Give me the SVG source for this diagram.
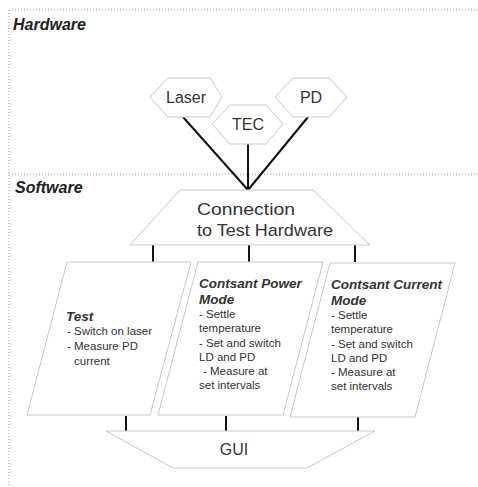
<svg xmlns="http://www.w3.org/2000/svg" width="478" height="487" viewBox="0 0 478 487">
<style>
.shape{fill:#fff;stroke:#c8c8c8;stroke-width:1}
.conn{stroke:#111;stroke-width:2;fill:none}
.zone{stroke:#999;stroke-width:1;stroke-dasharray:1,2;fill:none}
.t{font-family:"Liberation Sans",Arial,sans-serif;fill:#333}
.big{font-size:16px}
.body{font-size:11.5px}
.head{font-size:13.5px;font-weight:bold;font-style:italic}
.zt{font-family:"Liberation Sans",Arial,sans-serif;font-size:16px;font-weight:bold;font-style:italic;fill:#222}
</style>
<rect width="478" height="487" fill="#fff"/>
<g id="zones">
<line class="zone" x1="9" y1="10" x2="478" y2="10"/>
<line class="zone" x1="9" y1="10" x2="9" y2="487"/>
<line class="zone" x1="9" y1="174" x2="478" y2="174"/>
<text class="zt" x="13" y="30">Hardware</text>
<text class="zt" x="15" y="193">Software</text>
</g>
<g id="connectors">
<line class="conn" x1="183" y1="117" x2="248" y2="190"/>
<line class="conn" x1="248" y1="144" x2="248" y2="190"/>
<line class="conn" x1="308" y1="117" x2="248" y2="190"/>
<line class="conn" x1="153" y1="245" x2="153" y2="262"/>
<line class="conn" x1="249" y1="245" x2="249" y2="262"/>
<line class="conn" x1="355" y1="245" x2="355" y2="262"/>
<line class="conn" x1="126" y1="416" x2="126" y2="431"/>
<line class="conn" x1="226" y1="416" x2="226" y2="431"/>
<line class="conn" x1="358" y1="417" x2="358" y2="431"/>
</g>
<g id="laser">
<polygon class="shape" points="150,97 168,78 210,78 222,97 210,117 168,117"/>
<text class="t big" x="186" y="103" text-anchor="middle">Laser</text>
</g>
<g id="tec">
<polygon class="shape" points="212,124 230,105 266,105 283,124 266,144 230,144"/>
<text class="t big" x="248" y="130" text-anchor="middle">TEC</text>
</g>
<g id="pd">
<polygon class="shape" points="275,97 293,78 329,78 347,97 329,117 293,117"/>
<text class="t big" x="311" y="103" text-anchor="middle">PD</text>
</g>
<g id="connection">
<polygon class="shape" points="180,190 313,190 370,245 130,245"/>
<text class="t" font-size="17" x="197" y="215" textLength="98" lengthAdjust="spacingAndGlyphs">Connection</text>
<text class="t" font-size="17" x="197" y="236" textLength="136" lengthAdjust="spacingAndGlyphs">to Test Hardware</text>
</g>
<g id="test">
<polygon class="shape" points="67,262 191,262 150,415 27,415"/>
<text class="t head" x="66" y="321">Test</text>
<text class="t body" x="67" y="335">- Switch on laser</text>
<text class="t body" x="67" y="350">- Measure PD</text>
<text class="t body" x="74" y="365">current</text>
</g>
<g id="cpm">
<polygon class="shape" points="198,262 323,262 283,415 158,415"/>
<text class="t head" x="199" y="288">Contsant Power</text>
<text class="t head" x="199" y="304">Mode</text>
<text class="t body" x="199" y="318">- Settle</text>
<text class="t body" x="199" y="332">temperature</text>
<text class="t body" x="199" y="347">- Set and switch</text>
<text class="t body" x="199" y="361">LD and PD</text>
<text class="t body" x="203" y="375">- Measure at</text>
<text class="t body" x="199" y="389">set intervals</text>
</g>
<g id="ccm">
<polygon class="shape" points="330,263 455,263 415,417 290,417"/>
<text class="t head" x="331" y="289">Contsant Current</text>
<text class="t head" x="331" y="305">Mode</text>
<text class="t body" x="331" y="319">- Settle</text>
<text class="t body" x="331" y="333">temperature</text>
<text class="t body" x="331" y="348">- Set and switch</text>
<text class="t body" x="331" y="362">LD and PD</text>
<text class="t body" x="331" y="376">- Measure at</text>
<text class="t body" x="331" y="390">set intervals</text>
</g>
<g id="gui">
<polygon class="shape" points="106,431 375,431 307,468 173,468"/>
<text class="t big" x="234" y="455" text-anchor="middle">GUI</text>
</g>
</svg>
